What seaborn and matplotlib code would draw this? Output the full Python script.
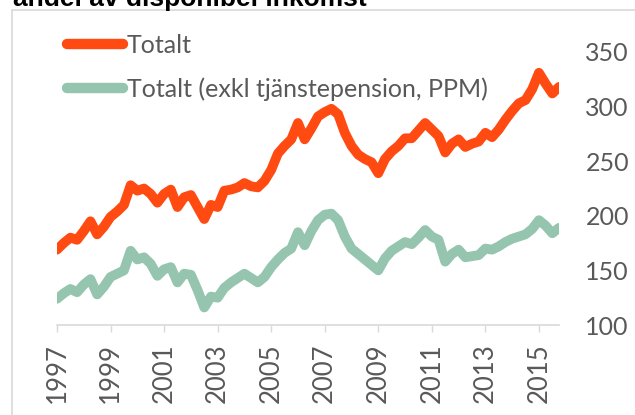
import matplotlib
matplotlib.use('Agg')
import matplotlib.pyplot as plt
from matplotlib.lines import Line2D
from matplotlib.patches import Rectangle
import seaborn as sns
import pandas as pd

# ---- data ----
start_year = 1997
totalt = [169, 175, 180, 178, 186, 195, 183, 190, 199, 204,
          210, 228, 223, 225, 220, 212, 220, 224, 208, 217,
          219, 208, 197, 210, 208, 223, 224, 226, 230, 227,
          226, 232, 242, 257, 264, 270, 285, 270, 280, 291,
          295, 298, 293, 276, 264, 256, 252, 249, 239, 252,
          259, 264, 271, 271, 278, 285, 279, 273, 258, 266,
          270, 263, 266, 268, 276, 272, 279, 288, 296, 303,
          306, 316, 331, 321, 312, 318]
exkl = [124, 129, 133, 130, 137, 142, 128, 135, 144, 147,
        150, 168, 160, 162, 156, 145, 151, 153, 139, 147,
        146, 132, 116, 126, 125, 134, 139, 143, 147, 143,
        139, 144, 153, 160, 166, 170, 185, 173, 186, 196,
        201, 202, 196, 181, 170, 165, 160, 155, 150, 161,
        168, 172, 176, 174, 180, 187, 181, 178, 158, 165,
        169, 162, 163, 164, 170, 169, 172, 176, 179, 181,
        183, 188, 196, 191, 184, 189]
series_names = ['Totalt', 'Totalt (exkl tjänstepension, PPM)']
colors = ['#FF4B12', '#95C4AF']
xtick_years = list(range(1997, 2016, 2))
ytick_values = [100, 150, 200, 250, 300, 350]
title = 'andel av disponibel inkomst'

tid = [start_year + q / 4 for q in range(len(totalt))]
df = pd.DataFrame({
    'tid': tid + tid,
    'värde': totalt + exkl,
    'serie': [series_names[0]] * len(totalt) + [series_names[1]] * len(exkl),
})

sns.set_theme(style='white')
plt.rcParams['font.family'] = ['Lato', 'DejaVu Sans']

W, H = 635, 415
fig = plt.figure(figsize=(W / 100, H / 100), dpi=100)
ax = fig.add_axes([57 / W, (H - 325) / H, (559 - 57) / W, (325 - 52) / H])

sns.lineplot(data=df, x='tid', y='värde', hue='serie', hue_order=series_names,
             palette=colors, lw=7, ax=ax, legend=False,
             solid_joinstyle='round', solid_capstyle='round')

ax.set_xlim(start_year, tid[-1])
ax.set_ylim(100, 350)
ax.set_xlabel('')
ax.set_ylabel('')
ax.grid(False)

ax.yaxis.tick_right()
ax.set_yticks(ytick_values)
ax.tick_params(axis='y', length=0, pad=19, labelsize=18, labelcolor='#595959')

ax.set_xticks(xtick_years)
ax.set_xticklabels([str(y) for y in xtick_years], rotation=90)
ax.tick_params(axis='x', length=5, width=1, color='#d9d9d9', pad=8,
               labelsize=18.5, labelcolor='#595959', bottom=True)

for s in ['left', 'top', 'right']:
    ax.spines[s].set_visible(False)
ax.spines['bottom'].set_color('#d9d9d9')
ax.spines['bottom'].set_linewidth(1.2)

handles = [Line2D([], [], color=c, lw=7.5, solid_capstyle='round') for c in colors]
ax.legend(handles, series_names, loc='upper left',
          bbox_to_anchor=(67 / W, 1 - 34 / H), bbox_transform=fig.transFigure,
          frameon=False, fontsize=18, handlelength=2.25, handletextpad=0.15,
          labelspacing=0.82, borderpad=0, borderaxespad=0, labelcolor='#595959')

fig.text(13 / W, 1 - 6 / H, title, fontsize=19, fontweight='bold',
         family=['Liberation Sans', 'DejaVu Sans'], ha='left', va='baseline',
         color='black')

fig.add_artist(Rectangle((12 / W, -0.05), 1.0, (H - 10) / H + 0.05,
                         transform=fig.transFigure, fill=False,
                         ec='#d9d9d9', lw=1.2))

fig.savefig('out.png', dpi=100)
